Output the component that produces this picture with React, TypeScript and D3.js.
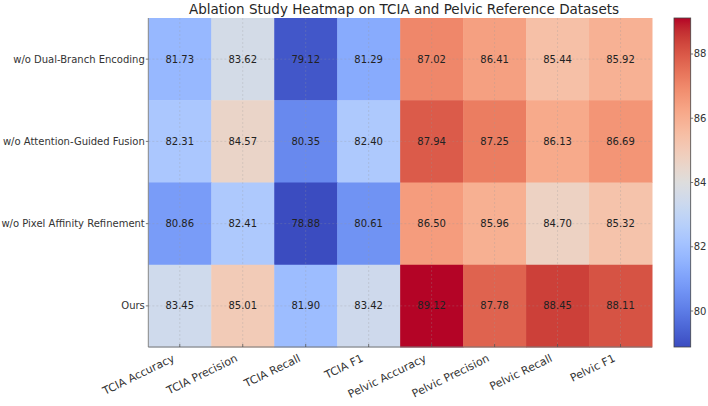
import React from "react";
import * as d3 from "d3";

const rows = [
  "w/o Dual-Branch Encoding",
  "w/o Attention-Guided Fusion",
  "w/o Pixel Affinity Refinement",
  "Ours",
];
const cols = [
  "TCIA Accuracy",
  "TCIA Precision",
  "TCIA Recall",
  "TCIA F1",
  "Pelvic Accuracy",
  "Pelvic Precision",
  "Pelvic Recall",
  "Pelvic F1",
];
const dualBranch = [81.73, 83.62, 79.12, 81.29, 87.02, 86.41, 85.44, 85.92];
const attentionFusion = [82.31, 84.57, 80.35, 82.4, 87.94, 87.25, 86.13, 86.69];
const pixelAffinity = [80.86, 82.41, 78.88, 80.61, 86.5, 85.96, 84.7, 85.32];
const ours = [83.45, 85.01, 81.9, 83.42, 89.12, 87.78, 88.45, 88.11];
const values = [dualBranch, attentionFusion, pixelAffinity, ours];
const cbarTicks = [80, 82, 84, 86, 88];
const title = "Ablation Study Heatmap on TCIA and Pelvic Reference Datasets";

// matplotlib coolwarm samples
const coolwarm = [
  [59, 76, 192], [68, 90, 204], [77, 104, 215], [87, 117, 225], [98, 130, 234],
  [108, 142, 241], [119, 154, 247], [130, 165, 251], [141, 176, 254], [152, 185, 255],
  [163, 194, 255], [174, 201, 253], [184, 208, 249], [194, 213, 244], [204, 217, 238],
  [213, 219, 230], [221, 221, 221], [229, 216, 209], [236, 211, 197], [241, 204, 185],
  [245, 196, 173], [247, 187, 160], [247, 177, 148], [247, 166, 135], [244, 154, 123],
  [241, 141, 111], [236, 127, 99], [229, 112, 88], [222, 96, 77], [213, 80, 66],
  [203, 62, 56], [192, 40, 47], [180, 4, 38],
].map(([r, g, b]) => `rgb(${r},${g},${b})`);
const interp = d3.piecewise(d3.interpolateRgb, coolwarm);

const W = 708;
const H = 406;
const m = { left: 148.3, right: 652, top: 18, bottom: 347 };
const cb = { x0: 674, x1: 690.7 };
const font = "DejaVu Sans, sans-serif";

export default function App() {
  const all = values.flat();
  const vmin = d3.min(all)!;
  const vmax = d3.max(all)!;
  const color = d3.scaleSequential(interp).domain([vmin, vmax]);
  const x = d3.scaleBand<string>().domain(cols).range([m.left, m.right]);
  const y = d3.scaleBand<string>().domain(rows).range([m.top, m.bottom]);
  const cy = d3.scaleLinear().domain([vmin, vmax]).range([m.bottom, m.top]);
  const stops = d3.range(0, 1.0001, 0.02);

  return (
    <div style={{ position: "fixed", left: 0, top: 0 }}>
      <svg width={W} height={H} style={{ display: "block", background: "#fff" }} fontFamily={font}>
        <defs>
          <linearGradient id="cbg" x1="0" y1="1" x2="0" y2="0">
            {stops.map((t) => (
              <stop key={t} offset={t} stopColor={interp(t)} />
            ))}
          </linearGradient>
        </defs>
        <text x={404} y={13.5} textAnchor="middle" fontSize={13.5} fill="#262626">
          {title}
        </text>
        {values.map((row, i) =>
          row.map((v, j) => (
            <rect
              key={`${i}-${j}`}
              x={x(cols[j])}
              y={y(rows[i])}
              width={x.bandwidth() + 0.5}
              height={y.bandwidth() + 0.5}
              fill={color(v)}
            />
          ))
        )}
        {/* grid lines through centers */}
        {cols.map((c) => (
          <line
            key={"gx" + c}
            x1={x(c)! + x.bandwidth() / 2}
            x2={x(c)! + x.bandwidth() / 2}
            y1={m.top}
            y2={m.bottom}
            stroke="#999"
            strokeOpacity={0.35}
            strokeWidth={0.8}
            strokeDasharray="2,2"
          />
        ))}
        {rows.map((r) => (
          <line
            key={"gy" + r}
            y1={y(r)! + y.bandwidth() / 2}
            y2={y(r)! + y.bandwidth() / 2}
            x1={m.left}
            x2={m.right}
            stroke="#999"
            strokeOpacity={0.35}
            strokeWidth={0.8}
            strokeDasharray="2,2"
          />
        ))}
        {values.map((row, i) =>
          row.map((v, j) => (
            <text
              key={`t${i}-${j}`}
              x={x(cols[j])! + x.bandwidth() / 2}
              y={y(rows[i])! + y.bandwidth() / 2}
              dy="0.35em"
              textAnchor="middle"
              fontSize={10}
              fill="#222"
            >
              {v.toFixed(2)}
            </text>
          ))
        )}
        {/* spines */}
        <line x1={m.left} x2={m.left} y1={m.top} y2={m.bottom} stroke="#888" strokeWidth={1} />
        <line x1={m.left} x2={m.right} y1={m.bottom} y2={m.bottom} stroke="#777" strokeWidth={1} />
        {rows.map((r) => {
          const yy = y(r)! + y.bandwidth() / 2;
          return (
            <g key={"yl" + r}>
              <line x1={m.left - 2.5} x2={m.left} y1={yy} y2={yy} stroke="#555" strokeWidth={0.8} />
              <text x={m.left - 3.5} y={yy} dy="0.35em" textAnchor="end" fontSize={10} fill="#333">
                {r}
              </text>
            </g>
          );
        })}
        {cols.map((c) => {
          const xx = x(c)! + x.bandwidth() / 2;
          return (
            <g key={"xl" + c}>
              <line x1={xx} x2={xx} y1={m.bottom - 3} y2={m.bottom} stroke="#555" strokeWidth={0.8} />
              <text
                transform={`translate(${xx - 4.5},${m.bottom + 13.8}) rotate(-26)`}
                textAnchor="end"
                fontSize={11}
                fill="#333"
              >
                {c}
              </text>
            </g>
          );
        })}
        {/* colorbar */}
        <rect x={cb.x0} y={m.top} width={cb.x1 - cb.x0} height={m.bottom - m.top} fill="url(#cbg)" stroke="#444" strokeWidth={0.8} />
        {cbarTicks.map((t) => (
          <g key={"cb" + t}>
            <line x1={cb.x1} x2={cb.x1 + 2.5} y1={cy(t)} y2={cy(t)} stroke="#555" strokeWidth={0.8} />
            <text x={cb.x1 + 3} y={cy(t)} dy="0.35em" fontSize={10} fill="#333">
              {t}
            </text>
          </g>
        ))}
      </svg>
    </div>
  );
}
